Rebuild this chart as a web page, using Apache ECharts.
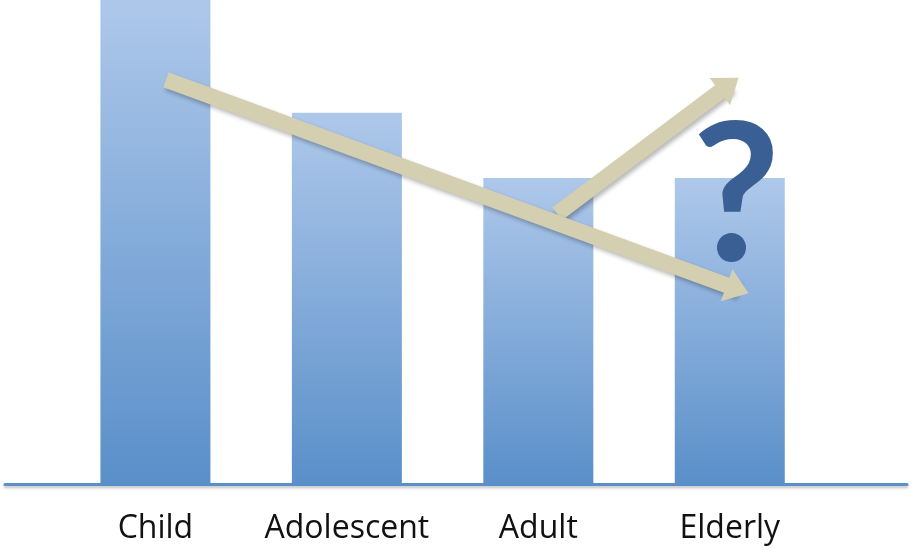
<!DOCTYPE html>
<html>
<head>
<meta charset="utf-8">
<script src="https://cdn.jsdelivr.net/npm/echarts@6/dist/echarts.min.js"></script>
<style>
  html, body { margin: 0; padding: 0; background: #fff; }
  #chart { width: 913px; height: 550px; }
</style>
</head>
<body>
<div id="chart"></div>
<script>
const categories = ['Child', 'Adolescent', 'Adult', 'Elderly']
const values = [100, 76.7, 63.2, 63.2]

// trend arrows, in (category position, value) units
const trendDown = [[0.055, 83.5], [3.041, 40.25]]
const trendUp = [[2.098, 55.8], [2.997, 82.5]]
const questionMark = [[3.033, 58.8]]

// flat triangle head, padded to a square box so it keeps its shape
const arrowHead = 'path://M16,5L32,27L0,27ZM0,0L0,0M32,32L32,32'

const chart = echarts.init(document.getElementById('chart'))

const arrowStyle = {
  color: '#d4cfb0',
  width: 16,
  opacity: 1,
  cap: 'butt',
  shadowBlur: 4,
  shadowColor: 'rgba(0,0,0,0.28)',
  shadowOffsetX: 2,
  shadowOffsetY: 3,
}

chart.setOption({
  animation: false,
  backgroundColor: '#fff',
  grid: [
    { left: 59.7, right: 87.5, top: 0, bottom: 66 },
    { left: 5, right: 6, top: 0, bottom: 66 },
  ],
  xAxis: [
    {
      type: 'category',
      gridIndex: 0,
      data: categories,
      axisLine: { show: false },
      axisTick: { show: false },
      axisLabel: {
        interval: 0,
        color: '#111',
        fontFamily: 'Open Sans',
        fontSize: 32,
        margin: 29,
      },
    },
    {
      type: 'category',
      gridIndex: 1,
      data: [''],
      axisLine: {
        lineStyle: {
          color: '#5a8fc9', width: 3,
          shadowBlur: 3, shadowColor: 'rgba(0,0,0,0.25)', shadowOffsetY: 2,
        },
      },
      axisTick: { show: false },
      axisLabel: { show: false },
    },
    { type: 'value', gridIndex: 0, min: -0.5, max: 3.5, show: false },
  ],
  yAxis: [
    { type: 'value', gridIndex: 0, min: 0, max: 100, show: false },
    { type: 'value', gridIndex: 1, min: 0, max: 100, show: false },
    { type: 'value', gridIndex: 0, min: 0, max: 100, show: false },
  ],
  series: [
    {
      type: 'bar',
      xAxisIndex: 0,
      yAxisIndex: 0,
      barWidth: 110,
      data: values,
      itemStyle: {
        color: new echarts.graphic.LinearGradient(0, 0, 0, 1, [
          { offset: 0, color: '#aec8ea' },
          { offset: 1, color: '#5a8fc9' },
        ]),
      },
    },
    {
      type: 'lines',
      coordinateSystem: 'cartesian2d',
      xAxisIndex: 2,
      yAxisIndex: 2,
      symbol: ['none', arrowHead],
      symbolSize: [0, 34],
      lineStyle: arrowStyle,
      itemStyle: { opacity: 1 },
      data: [{ coords: trendUp }],
      z: 3,
    },
    {
      type: 'lines',
      coordinateSystem: 'cartesian2d',
      xAxisIndex: 2,
      yAxisIndex: 2,
      symbol: ['none', arrowHead],
      symbolSize: [0, 34],
      lineStyle: arrowStyle,
      itemStyle: { opacity: 1 },
      data: [{ coords: trendDown }],
      z: 4,
    },
    {
      type: 'scatter',
      xAxisIndex: 2,
      yAxisIndex: 2,
      symbolSize: 0,
      itemStyle: { opacity: 1 },
      data: questionMark,
      z: 5,
      label: {
        show: true,
        position: 'inside',
        formatter: '?',
        color: '#3a5f95',
        fontFamily: 'Lato',
        fontWeight: 'bold',
        fontSize: 192,
      },
    },
  ],
})
</script>
</body>
</html>
